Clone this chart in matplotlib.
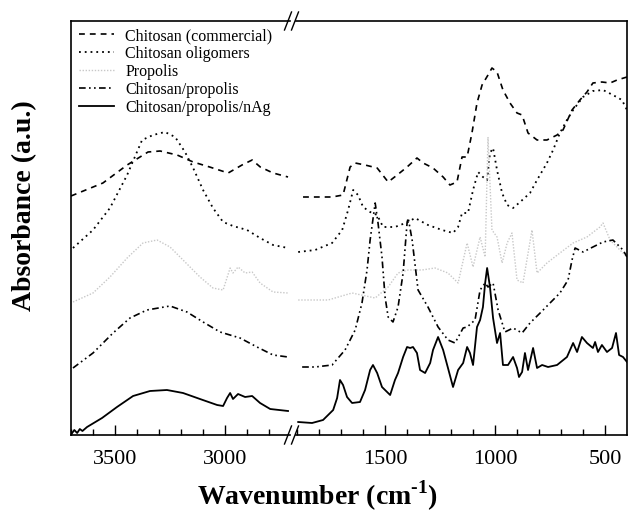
#%%
# FTIR spectra with a broken wavenumber axis
import numpy as np
import matplotlib
matplotlib.use('Agg')
import matplotlib.pyplot as plt
from matplotlib.lines import Line2D

plt.rcParams['font.family'] = ['Liberation Serif', 'DejaVu Serif']
plt.rcParams['mathtext.fontset'] = 'custom'
plt.rcParams['mathtext.rm'] = 'Liberation Serif'
plt.rcParams['mathtext.bf'] = 'Liberation Serif:bold'

#%%
# Data (wavenumber in cm-1, absorbance in a.u., offset stacked)
labels = ['Chitosan (commercial)', 'Chitosan oligomers', 'Propolis',
          'Chitosan/propolis', 'Chitosan/propolis/nAg']

# high wavenumber region (3700 - 2700)
cc_wn_hi = [3700, 3555, 3445, 3350, 3295, 3218, 3145, 3070, 2986, 2923, 2877, 2840, 2782, 2714]
cc_a_hi = [2.39, 2.52, 2.70, 2.83, 2.84, 2.80, 2.73, 2.68, 2.62, 2.70, 2.75, 2.68, 2.62, 2.58]

ol_wn_hi = [3691, 3600, 3523, 3445, 3377, 3327, 3273, 3227, 3182, 3145, 3100, 3055, 3009, 2964,
            2900, 2841, 2782, 2714]
ol_a_hi = [1.87, 2.05, 2.27, 2.60, 2.95, 3.00, 3.03, 2.98, 2.83, 2.67, 2.45, 2.27, 2.13, 2.09,
           2.05, 1.97, 1.90, 1.87]

pr_wn_hi = [3691, 3600, 3523, 3445, 3373, 3309, 3250, 3191, 3114, 3055, 3009, 2977, 2964, 2941,
            2909, 2877, 2841, 2782, 2714]
pr_a_hi = [1.33, 1.42, 1.58, 1.77, 1.92, 1.95, 1.88, 1.75, 1.58, 1.47, 1.45, 1.67, 1.62, 1.68,
           1.62, 1.63, 1.52, 1.43, 1.42]

cp_wn_hi = [3691, 3600, 3509, 3432, 3355, 3250, 3173, 3100, 3023, 2932, 2855, 2782, 2714]
cp_a_hi = [0.67, 0.82, 1.02, 1.17, 1.25, 1.29, 1.23, 1.13, 1.03, 0.97, 0.88, 0.80, 0.78]

ag_wn_hi = [3698, 3685, 3672, 3660, 3648, 3627, 3559, 3491, 3418, 3341, 3264, 3191, 3114, 3036,
            3009, 2991, 2977, 2964, 2941, 2909, 2877, 2841, 2795, 2714]
ag_a_hi = [0.01, 0.05, 0.02, 0.06, 0.04, 0.08, 0.17, 0.28, 0.39, 0.44, 0.45, 0.42, 0.36, 0.30,
           0.29, 0.37, 0.42, 0.36, 0.41, 0.38, 0.39, 0.32, 0.26, 0.24]

# fingerprint region (1900 - 400)
cc_wn_lo = [1873, 1741, 1691, 1659, 1636, 1591, 1536, 1486, 1445, 1400, 1355, 1327, 1282, 1236,
            1205, 1173, 1150, 1127, 1105, 1082, 1059, 1032, 1014, 991, 964, 932, 900, 877, 850,
            809, 764, 718, 691, 650, 614, 582, 555, 514, 477, 445, 400]
cc_a_lo = [2.38, 2.38, 2.40, 2.68, 2.72, 2.70, 2.67, 2.53, 2.60, 2.68, 2.77, 2.72, 2.67, 2.58,
           2.50, 2.53, 2.78, 2.78, 3.02, 3.32, 3.50, 3.60, 3.67, 3.63, 3.45, 3.32, 3.22, 3.20, 3.02,
           2.95, 2.95, 3.00, 3.05, 3.25, 3.35, 3.43, 3.52, 3.53, 3.52, 3.55, 3.58]

ol_wn_lo = [1895, 1818, 1741, 1695, 1668, 1645, 1623, 1600, 1568, 1536, 1509, 1455, 1395, 1364,
            1305, 1241, 1191, 1168, 1150, 1123, 1100, 1077, 1055, 1036, 1023, 1009, 991, 968, 945,
            918, 886, 841, 809, 764, 736, 705, 673, 645, 600, 555, 509, 464, 423, 400]
ol_a_lo = [1.83, 1.85, 1.92, 2.05, 2.25, 2.45, 2.40, 2.28, 2.23, 2.20, 2.08, 2.08, 2.13, 2.17,
           2.10, 2.05, 2.02, 2.08, 2.22, 2.22, 2.45, 2.63, 2.58, 2.55, 2.82, 2.87, 2.65, 2.42, 2.30,
           2.27, 2.33, 2.42, 2.55, 2.72, 2.85, 3.02, 3.15, 3.25, 3.38, 3.44, 3.45, 3.40, 3.35, 3.25]

pr_wn_lo = [1895, 1759, 1650, 1545, 1486, 1441, 1395, 1332, 1273, 1214, 1168, 1127, 1100, 1068,
            1045, 1032, 1014, 991, 968, 945, 923, 900, 873, 832, 809, 764, 705, 645, 582, 523,
            509, 477, 432, 400]
pr_a_lo = [1.35, 1.35, 1.42, 1.37, 1.48, 1.62, 1.65, 1.65, 1.67, 1.62, 1.52, 1.92, 1.68, 1.98,
           1.78, 2.98, 2.05, 1.98, 1.72, 1.92, 2.02, 1.55, 1.52, 2.05, 1.62, 1.72, 1.82, 1.92,
           1.98, 2.08, 2.12, 1.95, 1.85, 1.78]

cp_wn_lo = [1877, 1818, 1741, 1682, 1636, 1605, 1582, 1568, 1545, 1532, 1514, 1500, 1486, 1464,
            1441, 1418, 1400, 1395, 1377, 1350, 1305, 1259, 1214, 1182, 1145, 1127, 1091, 1068,
            1045, 1032, 1009, 986, 955, 918, 877, 841, 795, 750, 705, 668, 650, 636, 600, 555,
            509, 464, 418, 400]
cp_a_lo = [0.68, 0.68, 0.70, 0.85, 1.05, 1.32, 1.65, 1.95, 2.32, 2.12, 1.78, 1.38, 1.18, 1.13,
           1.28, 1.62, 2.12, 2.17, 1.95, 1.45, 1.28, 1.08, 0.95, 0.92, 1.07, 1.08, 1.15, 1.45,
           1.52, 1.48, 1.52, 1.25, 1.03, 1.07, 1.02, 1.12, 1.22, 1.32, 1.42, 1.55, 1.75, 1.87,
           1.83, 1.88, 1.93, 1.95, 1.85, 1.78]

ag_wn_lo = [1895, 1832, 1782, 1759, 1736, 1718, 1705, 1691, 1673, 1650, 1614, 1591, 1568, 1555,
            1536, 1514, 1477, 1455, 1441, 1418, 1400, 1386, 1373, 1355, 1341, 1318, 1295, 1282,
            1259, 1236, 1214, 1191, 1168, 1145, 1127, 1114, 1100, 1082, 1068, 1055, 1045, 1036,
            1023, 1009, 991, 977, 964, 941, 918, 900, 891, 877, 864, 850, 827, 809, 786, 759,
            718, 673, 645, 627, 605, 582, 555, 545, 532, 514, 491, 468, 450, 436, 418, 400]
ag_a_lo = [0.13, 0.12, 0.15, 0.20, 0.25, 0.37, 0.55, 0.50, 0.38, 0.32, 0.33, 0.45, 0.65, 0.70,
           0.62, 0.48, 0.40, 0.55, 0.62, 0.78, 0.88, 0.87, 0.88, 0.82, 0.65, 0.62, 0.72, 0.85,
           0.98, 0.85, 0.67, 0.48, 0.65, 0.72, 0.88, 0.82, 0.70, 1.08, 1.15, 1.28, 1.52, 1.67,
           1.48, 1.17, 0.92, 1.02, 0.70, 0.70, 0.78, 0.67, 0.58, 0.63, 0.82, 0.65, 0.87, 0.67,
           0.70, 0.68, 0.70, 0.78, 0.92, 0.83, 0.98, 0.92, 0.87, 0.93, 0.83, 0.90, 0.83, 0.87,
           1.02, 0.80, 0.78, 0.73]

hi_ticks = [3500, 3000]
lo_ticks = [1500, 1000, 500]

#%%
# Line styles for each sample
styles = [
    dict(color='black', lw=1.2, ls=(0, (3.5, 3))),
    dict(color='black', lw=1.3, ls=(0, (1, 2.2))),
    dict(color='#c8c8c8', lw=1.0, ls=(0, (1, 1.2))),
    dict(color='black', lw=1.2, ls=(0, (4, 2, 1, 2, 1, 2))),
    dict(color='black', lw=1.3, ls='-'),
]
hi_data = [(cc_wn_hi, cc_a_hi), (ol_wn_hi, ol_a_hi), (pr_wn_hi, pr_a_hi),
           (cp_wn_hi, cp_a_hi), (ag_wn_hi, ag_a_hi)]
lo_data = [(cc_wn_lo, cc_a_lo), (ol_wn_lo, ol_a_lo), (pr_wn_lo, pr_a_lo),
           (cp_wn_lo, cp_a_lo), (ag_wn_lo, ag_a_lo)]

W, H = 628, 516
fig = plt.figure(figsize=(W / 100, H / 100), dpi=100)
bot, top = 435, 21
ax1 = fig.add_axes([71 / W, 1 - bot / H, (290 - 71) / W, (bot - top) / H])
ax2 = fig.add_axes([296 / W, 1 - bot / H, (627 - 296) / W, (bot - top) / H])

handles = []
for (x, y), st in zip(hi_data, styles):
    ax1.plot(x, y, **st)
for (x, y), st, lab in zip(lo_data, styles, labels):
    h, = ax2.plot(x, y, label=lab, **st)
    handles.append(h)

ax1.set_xlim(3700, 2705)
ax2.set_xlim(1905, 400)
for ax in (ax1, ax2):
    ax.set_ylim(0, 4.14)
    ax.set_yticks([])
    ax.tick_params(axis='x', direction='in', length=7, width=1, labelsize=16, pad=11)
    ax.tick_params(axis='x', which='minor', direction='in', length=4, width=1)
    for s in ax.spines.values():
        s.set_linewidth(1.2)
ax1.set_xticks(hi_ticks)
ax1.set_xticks(np.arange(2800, 3701, 100), minor=True)
ax2.set_xticks(lo_ticks)
ax2.set_xticks(np.arange(500, 1901, 100), minor=True)
ax1.spines['right'].set_visible(False)
ax2.spines['left'].set_visible(False)

# break marks
for xc in (288, 295):
    for yc in (bot, top):
        fig.add_artist(Line2D([(xc - 3.5) / W, (xc + 3.5) / W],
                              [1 - (yc + 9) / H, 1 - (yc - 9) / H],
                              transform=fig.transFigure, color='black', lw=1))

fig.legend(handles=handles, loc='upper left', bbox_to_anchor=(79 / W, 1 - 28 / H),
           frameon=False, fontsize=11.5, handlelength=2.2, handletextpad=0.7,
           labelspacing=0.12, borderpad=0, borderaxespad=0)

fig.text(317 / W, 1 - 496 / H, 'Wavenumber (cm$^{\\mathbf{\u20101}}$)', fontsize=20,
         fontweight='bold', ha='center', va='center')
fig.text(25 / W, 1 - 206 / H, 'Absorbance (a.u.)', fontsize=20, fontweight='bold',
         rotation=90, ha='center', va='center')

fig.savefig('out.png', dpi=100)
